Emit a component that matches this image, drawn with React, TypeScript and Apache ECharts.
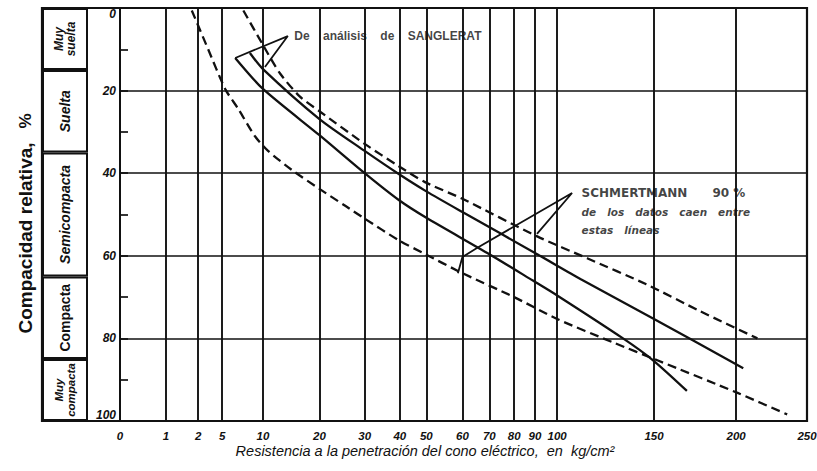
import React, { useEffect, useRef } from "react";
import * as echarts from "echarts";

// ---- x axis: printed tick values (kg/cm²) and the √-like hand-drawn scale they sit on ----
const X_TICKS = [0, 1, 2, 5, 10, 20, 30, 40, 50, 60, 70, 80, 90, 100, 150, 200, 250];
const X_TICK_ROOT_UNITS = [0, 1.06, 1.8, 2.35, 3.29, 4.59, 5.63, 6.44, 7.05, 7.88, 8.5, 9.07, 9.55, 10.06, 12.29, 14.18, 15.81];

// ---- y axis: relative density (%) ----
const Y_MIN = 0;
const Y_MAX = 100;
const Y_STEP = 20;

// ---- density classes (left panel) ----
const DENSITY_CLASSES = ["Muy\nsuelta", "Suelta", "Semicompacta", "Compacta", "Muy\ncompacta"];
const DENSITY_LIMITS = [0, 15, 35, 65, 85, 100];

// ---- curves: cone resistance qc (kg/cm²) vs relative density Dr (%) ----
const LOWER_DASHED_QC = [1.8, 3.25, 5.4, 7, 9, 10.9, 15.1, 20, 25.7, 30, 40, 48.7, 60, 80, 100, 129, 152, 201, 236];
const LOWER_DASHED_DR = [0.6, 10, 19.7, 24.5, 31, 34.6, 39.2, 43.8, 47.9, 51, 56.4, 59.3, 64.2, 70, 75.3, 81, 85.3, 93.2, 98.4];

const UPPER_DASHED_QC = [7.6, 9.9, 13, 16.5, 20, 30, 39.7, 49.3, 60, 91, 115.5, 146, 178, 215];
const UPPER_DASHED_DR = [0.6, 8.6, 15.8, 21.4, 25, 32.9, 38.3, 42.1, 46.2, 55.3, 60.6, 66.9, 73.4, 80];

const UPPER_SOLID_QC = [8.4, 10, 20, 30, 39.7, 50, 60, 91, 112, 149.5, 205];
const UPPER_SOLID_DR = [10.9, 14.8, 26.9, 34.6, 40.2, 44.4, 49.4, 59.6, 65.6, 75.2, 87.2];

const LOWER_SOLID_QC = [6.6, 10, 20, 30, 39.7, 50, 70, 89, 100, 134, 149.5, 170];
const LOWER_SOLID_DR = [12.1, 19.6, 30.8, 40, 46.5, 50.8, 59.6, 66, 69.6, 80, 85.3, 92.7];

// ---- annotation leaders (qc, Dr) ----
const SANGLERAT_LEADER_QC = [6.6, 14.4, 10.35];
const SANGLERAT_LEADER_DR = [12.1, 6.8, 14.3];
const SCHMERTMANN_LEADER_QC = [90.9, 107.7, 65.4, 60, 58.75];
const SCHMERTMANN_LEADER_DR = [54.7, 44.8, 58.1, 60.3, 64.2];

const SANGLERAT_TEXT = "De    análisis    de    SANGLERAT";
const SCHMERTMANN_TITLE = "SCHMERTMANN      90 %";
const SCHMERTMANN_LINES = ["de   los   datos   caen   entre", "estas   líneas"];

const X_TITLE = "Resistencia a la penetración del cono eléctrico,  en  kg/cm²";
const Y_TITLE = "Compacidad relativa,";
const Y_TITLE_UNIT = "%";

const INK = "#111";
const FONT = '"Liberation Sans", Arial, sans-serif';
const NOTE_FONT = '"DejaVu Sans", sans-serif';

// map a qc value onto the hand-drawn axis
function toU(q: number): number {
  if (q <= X_TICKS[0]) return X_TICK_ROOT_UNITS[0];
  for (let i = 0; i < X_TICKS.length - 1; i++) {
    if (q <= X_TICKS[i + 1]) {
      const t = (q - X_TICKS[i]) / (X_TICKS[i + 1] - X_TICKS[i]);
      return X_TICK_ROOT_UNITS[i] + t * (X_TICK_ROOT_UNITS[i + 1] - X_TICK_ROOT_UNITS[i]);
    }
  }
  return X_TICK_ROOT_UNITS[X_TICK_ROOT_UNITS.length - 1];
}

const pts = (q: number[], d: number[]) => q.map((v, i) => [toU(v), d[i]]);

function curve(name: string, q: number[], d: number[], dashed: boolean) {
  return {
    type: "line",
    name,
    xAxisIndex: 0,
    yAxisIndex: 0,
    data: pts(q, d),
    showSymbol: false,
    symbol: "none",
    smooth: 0.25,
    silent: true,
    z: 5,
    lineStyle: { color: INK, width: 2.3, type: dashed ? [9, 5] : "solid" },
  };
}

function leader(name: string, q: number[], d: number[]) {
  return {
    type: "line",
    name,
    xAxisIndex: 0,
    yAxisIndex: 0,
    data: pts(q, d),
    showSymbol: false,
    symbol: "none",
    silent: true,
    z: 6,
    lineStyle: { color: INK, width: 1.8 },
  };
}

const CLASS_FONT_SIZE: Record<string, number> = {
  "Muy\nsuelta": 12,
  Suelta: 14,
  Semicompacta: 14,
  Compacta: 14,
  "Muy\ncompacta": 11.5,
};

export default function App() {
  const ref = useRef<HTMLDivElement>(null);

  useEffect(() => {
    if (!ref.current) return;
    const chart = echarts.init(ref.current, null, { renderer: "svg" });

    const panelSeries = DENSITY_CLASSES.map((name, i) => ({
      type: "bar",
      name,
      xAxisIndex: 1,
      yAxisIndex: 1,
      stack: "classes",
      barWidth: "100%",
      silent: true,
      data: [DENSITY_LIMITS[i + 1] - DENSITY_LIMITS[i]],
      itemStyle: { color: "#fff", borderColor: INK, borderWidth: 2 },
      label: {
        show: true,
        position: "inside",
        rotate: 90,
        formatter: name,
        color: INK,
        fontFamily: FONT,
        fontWeight: "bold",
        fontStyle: name === "Compacta" ? "normal" : "italic",
        fontSize: CLASS_FONT_SIZE[name],
        lineHeight: CLASS_FONT_SIZE[name] + 0.5,
      },
    }));

    chart.setOption({
      animation: false,
      backgroundColor: "#fff",
      grid: [
        { left: 120, top: 8, width: 687, height: 413, show: true, borderColor: INK, borderWidth: 2, outerBoundsMode: "none" },
        { left: 42, top: 8, width: 46, height: 413, show: false, outerBoundsMode: "none" },
      ],
      xAxis: [
        {
          type: "value",
          gridIndex: 0,
          min: X_TICK_ROOT_UNITS[0],
          max: X_TICK_ROOT_UNITS[X_TICK_ROOT_UNITS.length - 1],
          axisLine: { show: true, lineStyle: { color: INK, width: 2 } },
          axisTick: { show: false, customValues: X_TICK_ROOT_UNITS },
          splitLine: { show: true, lineStyle: { color: INK, width: 1.9 } },
          axisLabel: {
            customValues: X_TICK_ROOT_UNITS,
            margin: 9,
            color: INK,
            fontFamily: FONT,
            fontWeight: "bold",
            fontStyle: "italic",
            fontSize: 11.5,
            hideOverlap: false,
            formatter: (val: number) => {
              const i = X_TICK_ROOT_UNITS.findIndex((u) => Math.abs(u - val) < 1e-6);
              return i >= 0 ? String(X_TICKS[i]) : "";
            },
          },
        },
        { type: "category", gridIndex: 1, data: ["clase"], show: false },
      ],
      yAxis: [
        {
          type: "value",
          gridIndex: 0,
          min: Y_MIN,
          max: Y_MAX,
          interval: Y_STEP,
          inverse: true,
          axisLine: { show: true, lineStyle: { color: INK, width: 2 } },
          axisTick: { show: true, inside: true, length: 8, lineStyle: { color: INK, width: 1.7 } },
          minorTick: { show: true, splitNumber: 2, length: 8, lineStyle: { color: INK, width: 1.7 } },
          splitLine: { show: true, lineStyle: { color: INK, width: 1.7 } },
          axisLabel: {
            margin: 4,
            color: INK,
            fontFamily: FONT,
            fontWeight: "bold",
            fontStyle: "italic",
            fontSize: 12,
            verticalAlignMinLabel: "top",
            verticalAlignMaxLabel: "bottom",
          },
        },
        { type: "value", gridIndex: 1, min: Y_MIN, max: Y_MAX, inverse: true, show: false },
      ],
      graphic: [
        {
          type: "rect",
          shape: { x: 42, y: 8, width: 765, height: 413 },
          style: { fill: "none", stroke: INK, lineWidth: 2.2 },
          z: 50,
          silent: true,
        },
        {
          type: "text",
          x: 25,
          y: 238,
          rotation: Math.PI / 2,
          style: {
            text: Y_TITLE,
            font: `bold 19px ${FONT}`,
            fill: INK,
            align: "center",
            verticalAlign: "middle",
            textAlign: "center",
            textVerticalAlign: "middle",
          },
        },
        {
          type: "text",
          x: 25,
          y: 121,
          rotation: Math.PI / 2,
          style: {
            text: Y_TITLE_UNIT,
            font: `bold 17px ${FONT}`,
            fill: INK,
            align: "center",
            verticalAlign: "middle",
            textAlign: "center",
            textVerticalAlign: "middle",
          },
        },
        {
          type: "text",
          x: 425,
          y: 451,
          style: {
            text: X_TITLE,
            font: `italic 14.5px ${FONT}`,
            fill: INK,
            align: "center",
            verticalAlign: "middle",
            textAlign: "center",
            textVerticalAlign: "middle",
          },
        },
      ],
      series: [
        ...panelSeries,
        curve("Límite inferior (Schmertmann)", LOWER_DASHED_QC, LOWER_DASHED_DR, true),
        curve("Límite superior (Schmertmann)", UPPER_DASHED_QC, UPPER_DASHED_DR, true),
        curve("Sanglerat superior", UPPER_SOLID_QC, UPPER_SOLID_DR, false),
        curve("Sanglerat inferior", LOWER_SOLID_QC, LOWER_SOLID_DR, false),
        leader("Flecha Sanglerat", SANGLERAT_LEADER_QC, SANGLERAT_LEADER_DR),
        leader("Flecha Schmertmann", SCHMERTMANN_LEADER_QC, SCHMERTMANN_LEADER_DR),
        {
          type: "scatter",
          xAxisIndex: 0,
          yAxisIndex: 0,
          silent: true,
          symbolSize: 1,
          itemStyle: { color: "transparent" },
          data: [[toU(SANGLERAT_LEADER_QC[1]), SANGLERAT_LEADER_DR[1]]],
          label: {
            show: true,
            position: "right",
            distance: 6,
            formatter: SANGLERAT_TEXT,
            color: INK,
            fontFamily: FONT,
            fontWeight: "bold",
            fontSize: 12,
          },
          z: 7,
        },
        {
          type: "scatter",
          xAxisIndex: 0,
          yAxisIndex: 0,
          silent: true,
          symbolSize: 1,
          itemStyle: { color: "transparent" },
          data: [[toU(SCHMERTMANN_LEADER_QC[1]), SCHMERTMANN_LEADER_DR[1]]],
          label: {
            show: true,
            position: "right",
            distance: 9,
            offset: [0, 18.5],
            formatter: [
              `{h|${SCHMERTMANN_TITLE}}`,
              ...SCHMERTMANN_LINES.map((l) => `{b|${l}}`),
            ].join("\n"),
            rich: {
              h: { fontFamily: NOTE_FONT, fontWeight: "bold", fontSize: 12, color: INK, lineHeight: 18.5 },
              b: { fontFamily: NOTE_FONT, fontWeight: "bold", fontStyle: "italic", fontSize: 10.5, color: INK, lineHeight: 18.5 },
            },
          },
          z: 7,
        },
      ],
    });

    return () => chart.dispose();
  }, []);

  return (
    <div
      ref={ref}
      style={{ position: "fixed", left: 0, top: 0, width: 817, height: 471, background: "#fff" }}
    />
  );
}
